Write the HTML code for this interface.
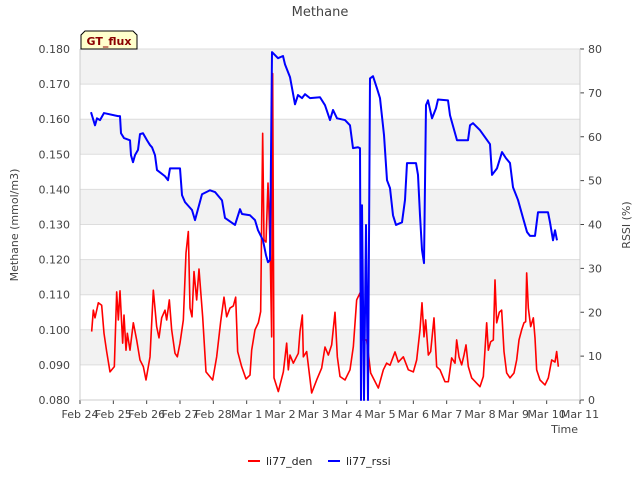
<!DOCTYPE html>
<html><head><meta charset="utf-8"><style>
body{margin:0;background:#fff;font-family:"Liberation Sans","DejaVu Sans",sans-serif}
svg text{font-family:"DejaVu Sans","Liberation Sans",sans-serif}
</style></head><body>
<svg id="c" width="640" height="480" xmlns="http://www.w3.org/2000/svg"></svg>
<script>
const xTickLabels=["Feb 24","Feb 25","Feb 26","Feb 27","Feb 28","Mar 1","Mar 2","Mar 3","Mar 4","Mar 5","Mar 6","Mar 7","Mar 8","Mar 9","Mar 10","Mar 11"];
const yTickLabels=["0.080","0.090","0.100","0.110","0.120","0.130","0.140","0.150","0.160","0.170","0.180"];
const y2TickLabels=["0","10","20","30","40","50","60","70","80"];
const denDays=[0.35,0.40,0.45,0.55,0.65,0.72,0.80,0.90,1.03,1.10,1.15,1.20,1.28,1.32,1.38,1.42,1.50,1.60,1.70,1.80,1.90,1.98,2.10,2.20,2.30,2.37,2.45,2.55,2.60,2.68,2.75,2.85,2.92,3.00,3.10,3.18,3.25,3.30,3.36,3.42,3.50,3.57,3.68,3.78,3.98,4.10,4.22,4.32,4.40,4.50,4.60,4.67,4.73,4.85,4.98,5.10,5.15,5.25,5.35,5.42,5.48,5.52,5.58,5.64,5.70,5.75,5.78,5.82,5.95,6.1,6.2,6.25,6.3,6.4,6.55,6.6,6.67,6.7,6.8,6.95,7.1,7.25,7.35,7.45,7.55,7.65,7.72,7.8,7.95,8.1,8.2,8.3,8.4,8.48,8.6,8.65,8.72,8.95,9.1,9.2,9.3,9.45,9.55,9.7,9.85,10.0,10.1,10.2,10.26,10.32,10.37,10.45,10.52,10.62,10.7,10.8,10.95,11.05,11.15,11.25,11.3,11.37,11.45,11.52,11.58,11.65,11.75,11.9,12.0,12.1,12.2,12.25,12.32,12.4,12.45,12.5,12.58,12.65,12.72,12.8,12.9,13.02,13.1,13.17,13.25,13.32,13.37,13.4,13.45,13.52,13.6,13.65,13.7,13.8,13.95,14.05,14.15,14.25,14.3,14.35];
const denVals=[0.0995,0.1056,0.1034,0.1077,0.107,0.099,0.0938,0.088,0.0895,0.1108,0.1028,0.1111,0.0962,0.1042,0.0942,0.099,0.0942,0.102,0.0971,0.0914,0.0895,0.0857,0.0923,0.1113,0.1009,0.0977,0.1034,0.1056,0.1028,0.1085,0.1,0.0933,0.0923,0.0962,0.1028,0.1219,0.128,0.1062,0.1037,0.1166,0.1085,0.1173,0.1037,0.088,0.0857,0.0923,0.1023,0.1093,0.1037,0.1062,0.1068,0.1093,0.0938,0.0895,0.086,0.0871,0.0942,0.1,0.102,0.1052,0.156,0.1256,0.125,0.1418,0.125,0.098,0.173,0.0863,0.0824,0.088,0.0962,0.0886,0.0928,0.0905,0.0933,0.0995,0.1042,0.0923,0.0938,0.082,0.0857,0.0891,0.0951,0.0928,0.0957,0.105,0.0923,0.0867,0.0857,0.0886,0.0952,0.1085,0.1105,0.0971,0.0971,0.0933,0.0877,0.0834,0.0886,0.0905,0.0899,0.0937,0.0908,0.0923,0.0886,0.088,0.0914,0.1,0.1077,0.098,0.1028,0.0928,0.0938,0.1034,0.0895,0.0886,0.0852,0.0852,0.092,0.0905,0.0971,0.0923,0.09,0.0928,0.0957,0.0895,0.0863,0.0848,0.0838,0.0867,0.102,0.0942,0.0966,0.0971,0.1142,0.102,0.105,0.1056,0.0938,0.0877,0.0863,0.0877,0.0914,0.0971,0.1,0.102,0.1023,0.1162,0.1062,0.1009,0.1034,0.0977,0.0886,0.0857,0.0843,0.0863,0.0914,0.0908,0.0938,0.0895];
const rssiDays=[0.33,0.45,0.51,0.6,0.72,1.14,1.2,1.23,1.32,1.5,1.53,1.59,1.65,1.74,1.8,1.89,2.01,2.1,2.16,2.25,2.31,2.55,2.64,2.7,3.0,3.06,3.15,3.36,3.45,3.66,3.9,4.05,4.26,4.35,4.65,4.8,4.86,5.1,5.25,5.34,5.49,5.58,5.64,5.7,5.76,5.94,6.09,6.15,6.3,6.45,6.54,6.66,6.75,6.9,7.2,7.35,7.5,7.59,7.71,7.95,8.1,8.19,8.34,8.4,8.43,8.46,8.52,8.58,8.64,8.7,8.79,8.91,9.0,9.12,9.21,9.3,9.39,9.48,9.66,9.75,9.81,10.08,10.14,10.2,10.26,10.32,10.38,10.44,10.56,10.68,10.74,11.04,11.1,11.31,11.64,11.7,11.79,12.0,12.3,12.36,12.51,12.66,12.78,12.9,12.99,13.14,13.29,13.41,13.5,13.65,13.74,14.04,14.1,14.19,14.25,14.31];
const rssiVals=[65.6,62.6,64.2,63.8,65.4,64.7,64.7,60.8,59.7,59.2,55.8,54.2,55.8,57,60.6,60.8,59.2,58.1,57.6,55.8,52.4,51,50.1,52.8,52.8,46.7,45.1,43.3,41,46.9,47.8,47.4,45.5,41.5,39.9,43.5,42.4,42.1,41,38.7,36.4,33,31.4,31.9,79.3,77.9,78.4,76.5,73.6,67.4,69.5,68.8,69.7,68.8,69.0,67.2,63.8,66.1,64.2,63.8,62.6,57.4,57.6,57.4,0,44.4,0,39.9,0,73.3,73.8,71,68.8,60.4,50.1,48.3,42.1,39.9,40.5,45.6,54.0,54.0,51.3,42.1,34.2,31.2,67.2,68.3,64.2,66.5,68.5,68.3,64.9,59.2,59.2,62.6,63.1,61.5,58.3,51.3,52.8,56.5,55.1,54.0,48.5,45.6,41.5,38.3,37.4,37.4,42.8,42.8,40.5,36.4,38.7,36.4];

const NS="http://www.w3.org/2000/svg",svg=document.getElementById('c');
const L=80,R=580,T=49,B=400;
const xs=d=>L+d*(R-L)/15, ys=v=>B-(v-0.08)/0.1*(B-T), y2=r=>B-r/80*(B-T);
function mk(t,a,p){const e=document.createElementNS(NS,t);for(const k in a)e.setAttribute(k,a[k]);(p||svg).appendChild(e);return e;}
function tx(x,y,s,o){const e=mk('text',Object.assign({x:x,y:y,'font-size':11,fill:'#444'},o||{}));e.textContent=s;return e;}
for(let i=0;i<10;i++){const v0=0.08+i*0.01;
 if(i%2==1){const b=mk('rect',{x:L,y:ys(v0+0.01),width:R-L,height:ys(v0)-ys(v0+0.01),fill:'#f2f2f2'});
 
 }}
yTickLabels.forEach((s,i)=>{const y=ys(0.08+i*0.01);
 const g=mk('line',{x1:L,x2:R,y1:y,y2:y,stroke:'#ddd','stroke-width':1});
 
 
 const t=tx(L-10,y+4,s,{'text-anchor':'end'});
 
 });
y2TickLabels.forEach((s,i)=>{const y=y2(i*10);
 mk('line',{x1:R,x2:R+4,y1:y,y2:y,stroke:'#444'});
 const t=tx(R+8,y+4,s);
 
 });
xTickLabels.forEach((s,i)=>{const x=xs(i);
 mk('line',{x1:x,x2:x,y1:B,y2:B+4,stroke:'#444'});
 const t=tx(x,B+18,s,{'text-anchor':'middle'});
 
 });
mk('line',{x1:L,x2:L,y1:T,y2:B,stroke:'#ccc'});mk('line',{x1:R,x2:R,y1:T,y2:B,stroke:'#ccc'});
mk('line',{x1:L,x2:R,y1:B,y2:B,stroke:'#ccc'});
function series(days,vals,f,col,name,w){const p=mk('polyline',{points:days.map((d,i)=>xs(d)+','+f(vals[i])).join(' '),fill:'none',stroke:col,'stroke-width':w,'stroke-linejoin':'round'});
 
 }
series(denDays,denVals,ys,'#ff0000','li77-den-line',1.6);
series(rssiDays,rssiVals,y2,'#0000ff','li77-rssi-line',2);
let t=tx(320,16,'Methane',{'text-anchor':'middle','font-size':13});

t=tx(578,433,'Time',{'text-anchor':'end'});

t=tx(18,225,'Methane (mmol/m3)',{'text-anchor':'middle',transform:'rotate(-90 18 225)'});

t=tx(630,225,'RSSI (%)',{'text-anchor':'middle',transform:'rotate(-90 630 225)'});

const gb=mk('path',{d:'M81,49 L81,35 L85,31 L133,31 L137,35 L137,49 Z',fill:'#ffffcc',stroke:'#000','stroke-width':1});

t=tx(109,45,'GT_flux',{'text-anchor':'middle',fill:'#8b0000','font-weight':'bold'});

let l=mk('line',{x1:248,x2:260,y1:461,y2:461,stroke:'#ff0000','stroke-width':2});

t=tx(266,465,'li77_den',{fill:'#222'});

l=mk('line',{x1:328,x2:340,y1:461,y2:461,stroke:'#0000ff','stroke-width':2});

t=tx(346,465,'li77_rssi',{fill:'#222'});

</script>
</body></html>
